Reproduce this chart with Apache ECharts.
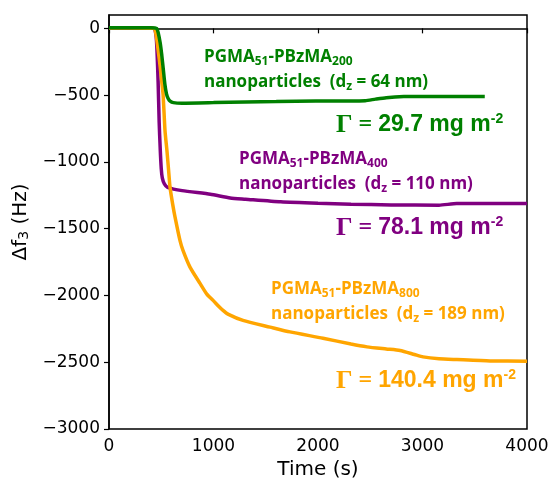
<!DOCTYPE html>
<html>
<head>
<meta charset="utf-8">
<script src="https://cdn.jsdelivr.net/npm/echarts@6/dist/echarts.min.js"></script>
<style>
  html, body { margin: 0; padding: 0; background: #fff; }
  #chart { width: 550px; height: 479px; }
</style>
</head>
<body>
<div id="chart"></div>
<script type="text/javascript">

    // time (s) and frequency shift (Hz)
    var greenT = [0, 200, 400, 440, 455, 470, 490, 505, 520, 535, 550, 566, 585, 616, 700, 1000, 1306, 1600, 1980, 2300, 2451, 2550, 2653, 2822, 3000, 3300, 3596];
    var greenF = [5, 5, 4, 3, 0, -30, -110, -200, -310, -420, -490, -525, -545, -556, -560, -556, -551, -548, -544, -544, -542, -530, -519, -511, -510, -510, -511];

    var purpleT = [0, 200, 420, 440, 455, 470, 480, 490, 500, 510, 530, 560, 700, 970, 1160, 1306, 1643, 2000, 2316, 2700, 3158, 3327, 3700, 4000];
    var purpleF = [2, 2, 0, -10, -100, -400, -700, -900, -1050, -1120, -1165, -1190, -1215, -1242, -1270, -1279, -1299, -1310, -1317, -1322, -1324, -1312, -1312, -1312];

    var orangeT = [0, 200, 420, 440, 455, 470, 490, 505, 518, 536, 555, 570, 584, 610, 632, 679, 708, 775, 871, 936, 996, 1054, 1091, 1138, 1282, 1541, 1732, 2048, 2316, 2469, 2653, 2785, 2923, 3005, 3158, 3330, 3646, 4000];
    var orangeF = [2, 2, 0, -10, -70, -160, -290, -400, -501, -767, -920, -1060, -1190, -1320, -1414, -1588, -1663, -1788, -1910, -1990, -2037, -2085, -2112, -2140, -2187, -2237, -2273, -2320, -2364, -2385, -2401, -2412, -2442, -2460, -2474, -2480, -2490, -2492];

    var xTicks = [0, 1000, 2000, 3000, 4000];
    var yTicks = [0, -500, -1000, -1500, -2000, -2500, -3000];

    var GREEN = '#008000', PURPLE = '#800080', ORANGE = '#ffa500';

    function pairs(t, f) {
        var out = [];
        for (var i = 0; i < t.length; i++) out.push([t[i], f[i]]);
        return out;
    }

    function plain(v) {
        return String(v).replace('-', '\u2212');
    }

    function lineSeries(name, t, f, color) {
        return {
            name: name,
            type: 'line',
            data: pairs(t, f),
            showSymbol: false,
            smooth: 0.2,
            lineStyle: {color: color, width: 3.5},
            z: 2
        };
    }

    // rich styles for the annotation blocks
    function labelRich(color) {
        var base = {fontFamily: 'Open Sans', fontWeight: 'bold', fill: color, lineHeight: 25};
        return {
            t: Object.assign({fontSize: 17}, base),
            s: Object.assign({fontSize: 12, padding: [10, 0, 0, 0]}, base)
        };
    }

    function gammaRich(color) {
        return {
            g: {fontFamily: 'Liberation Serif', fontWeight: 'bold', fontSize: 26, fill: color},
            e: {fontFamily: 'Liberation Serif', fontWeight: 'bold', fontSize: 24, fill: color},
            v: {fontFamily: 'Liberation Sans', fontWeight: 'bold', fontSize: 23, fill: color},
            p: {fontFamily: 'Liberation Sans', fontWeight: 'bold', fontSize: 14, fill: color, padding: [0, 0, 12, 0]}
        };
    }

    function textBlock(left, top, text, rich) {
        return {type: 'text', left: left, top: top, z: 10, style: {text: text, rich: rich}};
    }

    var myChart = echarts.init(document.getElementById('chart'));
    myChart.setOption({
        animation: false,
        grid: {left: 109, right: 23, top: 15, bottom: 50, outerBoundsMode: 'none',
            show: true, borderColor: '#000', borderWidth: 1.5},
        xAxis: {
            type: 'value', min: 0, max: 4000, interval: 1000,
            axisLine: {show: true, lineStyle: {color: '#000', width: 1.5}},
            axisTick: {show: true, length: 5, lineStyle: {color: '#000', width: 1.2}},
            axisLabel: {color: '#000', fontFamily: 'DejaVu Sans', fontSize: 17, margin: 9,
                customValues: xTicks, formatter: plain},
            splitLine: {show: false},
            name: 'Time (s)', nameLocation: 'middle', nameGap: 29,
            nameTextStyle: {color: '#000', fontFamily: 'DejaVu Sans', fontSize: 20}
        },
        yAxis: {
            type: 'value', min: -3000, max: 100, interval: 500,
            axisLine: {show: true, lineStyle: {color: '#000', width: 1.5}},
            axisTick: {show: true, length: 5, lineStyle: {color: '#000', width: 1.2}, customValues: yTicks},
            axisLabel: {color: '#000', fontFamily: 'DejaVu Sans', fontSize: 17, margin: 9,
                customValues: yTicks, formatter: plain},
            splitLine: {show: false},
            name: '{a|\u0394f}{b|3}{a| (Hz)}', nameLocation: 'middle', nameGap: 76,
            nameTextStyle: {
                rich: {
                    a: {color: '#000', fontFamily: 'DejaVu Sans', fontSize: 20},
                    b: {color: '#000', fontFamily: 'DejaVu Sans', fontSize: 14, padding: [8, 0, 0, 0]}
                }
            }
        },
        series: [
            lineSeries('PGMA51-PBzMA400', purpleT, purpleF, PURPLE),
            lineSeries('PGMA51-PBzMA800', orangeT, orangeF, ORANGE),
            lineSeries('PGMA51-PBzMA200', greenT, greenF, GREEN)
        ],
        graphic: [
            textBlock(204, 46, '{t|PGMA}{s|51}{t|-PBzMA}{s|200}\n{t|nanoparticles  (d}{s|z}{t| = 64 nm)}', labelRich(GREEN)),
            textBlock(336, 112, '{g|\u0393}{e| = }{v|29.7 mg m}{p|-2}', gammaRich(GREEN)),
            textBlock(239, 148, '{t|PGMA}{s|51}{t|-PBzMA}{s|400}\n{t|nanoparticles  (d}{s|z}{t| = 110 nm)}', labelRich(PURPLE)),
            textBlock(336, 215, '{g|\u0393}{e| = }{v|78.1 mg m}{p|-2}', gammaRich(PURPLE)),
            textBlock(271, 278, '{t|PGMA}{s|51}{t|-PBzMA}{s|800}\n{t|nanoparticles  (d}{s|z}{t| = 189 nm)}', labelRich(ORANGE)),
            textBlock(336, 368, '{g|\u0393}{e| = }{v|140.4 mg m}{p|-2}', gammaRich(ORANGE))
        ]
    });
</script>
</body>
</html>
